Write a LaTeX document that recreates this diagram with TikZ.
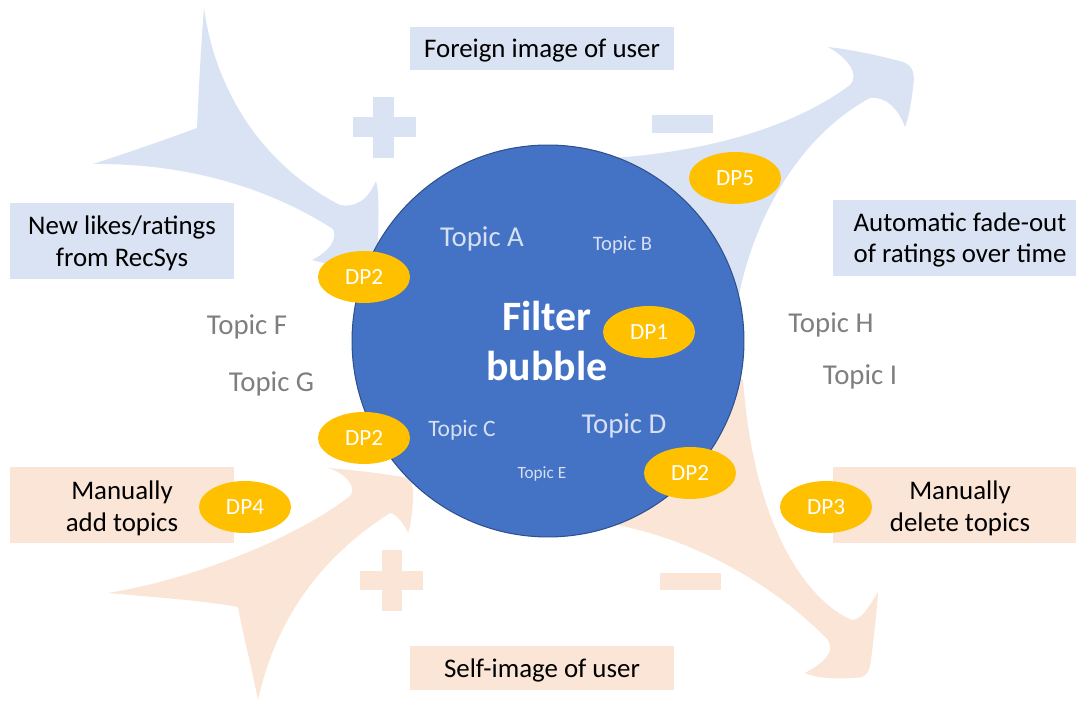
\documentclass[tikz,border=0pt]{standalone}
\usepackage{fontspec}
\setmainfont{Carlito}
\usetikzlibrary{shapes.geometric}
\definecolor{lblue}{HTML}{DAE3F3}
\definecolor{lorange}{HTML}{FBE5D6}
\definecolor{bubblefill}{HTML}{4472C4}
\definecolor{bubbleedge}{HTML}{2F528F}
\definecolor{dpgold}{HTML}{FFC000}
\definecolor{topicgrey}{HTML}{7F7F7F}
\definecolor{topiclight}{HTML}{D6E0F2}
\begin{document}
\begin{tikzpicture}[x=0.02cm,y=-0.02cm,
  boxtext/.style={font=\fontsize{15.3}{18.1}\selectfont, align=center, text=black, inner sep=0, yshift=-0.04cm},
  bluebox/.style={fill=lblue, inner sep=0, draw=none},
  orangebox/.style={fill=lorange, inner sep=0, draw=none},
  dp/.style={ellipse, fill=dpgold, minimum width=1.84cm, minimum height=1.04cm, inner sep=0,
             text=white, font=\fontsize{13.2}{15}\selectfont},
  outertopic/.style={anchor=base, text=topicgrey, inner sep=0, font=\fontsize{16.4}{19}\selectfont},
  innertopic/.style={anchor=base, text=topiclight, inner sep=0},
]
\useasboundingbox (0,0) rectangle (1076,702);

% ---- label boxes ----
\node[bluebox, minimum width=5.28cm, minimum height=0.86cm] (foreignbox) at (542,48.5) {};
\node[boxtext] (foreign) at (foreignbox.center) {Foreign image of user};
\node[bluebox, minimum width=4.48cm, minimum height=1.52cm] (likesbox) at (122,241) {};
\node[boxtext] (likes) at (likesbox.center) {New likes/ratings\\from RecSys};
\node[bluebox, minimum width=4.86cm, minimum height=1.52cm] (fadebox) at (954.5,238) {};
\node[boxtext] (fade) at (960,238) {Automatic fade-out\\of ratings over time};
\node[orangebox, minimum width=4.48cm, minimum height=1.52cm] (addbox) at (122,505) {};
\node[boxtext] (addtxt) at (122,506) {Manually\\add topics};
\node[orangebox, minimum width=4.86cm, minimum height=1.52cm] (delbox) at (954.5,505) {};
\node[boxtext] (deltxt) at (960,506) {Manually\\delete topics};
\node[orangebox, minimum width=5.28cm, minimum height=0.88cm] (selfbox) at (542,668) {};
\node[boxtext] (self) at (selfbox.center) {Self-image of user};

% ---- plus / minus signs ----
\fill[lblue] (353,117) rectangle (416,137);
\fill[lblue] (373,97) rectangle (394,158);
\fill[lblue] (652,115) rectangle (713,133);
\fill[lorange] (360,571) rectangle (423,590);
\fill[lorange] (382,550) rectangle (402,611);
\fill[lorange] (660,573) rectangle (721,590);

% ---- swept arrows ----
% incoming ratings (upper left)
\fill[lblue] (204,8)
  .. controls (215,90) and (262,165) .. (340,205)
  .. controls (355,208) and (368,200) .. (376,181)
  .. controls (380,195) and (378,225) .. (378,255)
  -- (392,272) -- (335,266) -- (312,260)
  .. controls (328,252) and (338,240) .. (333,229)
  .. controls (280,195) and (200,163) .. (93,164)
  .. controls (130,152) and (170,138) .. (197,128)
  .. controls (199,85) and (201,45) .. cycle;
% fade-out (upper right)
\fill[lblue] (600,168) -- (613,158)
  .. controls (700,152) and (790,130) .. (850,85)
  .. controls (860,75) and (848,58) .. (828,47)
  .. controls (855,50) and (885,57) .. (903,62)
  .. controls (914,66) and (915,75) .. (913,88)
  .. controls (911,105) and (908,120) .. (905,127)
  .. controls (898,108) and (885,96) .. (870,98)
  .. controls (810,130) and (760,200) .. (740,290)
  -- (735,320) -- cycle;
% manual additions (lower left)
\fill[lorange] (258,700)
  .. controls (250,660) and (242,630) .. (238,607)
  .. controls (200,600) and (150,597) .. (108,593)
  .. controls (200,578) and (300,535) .. (350,496)
  .. controls (358,488) and (345,472) .. (327,468)
  .. controls (355,470) and (385,474) .. (403,477)
  .. controls (412,479) and (414,488) .. (413,500)
  .. controls (412,515) and (410,528) .. (408,533)
  .. controls (403,522) and (396,514) .. (390,513)
  .. controls (340,545) and (280,600) .. cycle;
% manual deletions (lower right)
\fill[lorange] (600,520) -- (612,524)
  .. controls (700,540) and (780,590) .. (828,640)
  .. controls (835,652) and (825,662) .. (805,673)
  .. controls (820,680) and (850,679) .. (862,677)
  .. controls (868,675) and (870,668) .. (871,660)
  .. controls (874,635) and (877,610) .. (878,592)
  .. controls (870,605) and (862,620) .. (852,620)
  .. controls (815,605) and (755,540) .. (743,380)
  -- (730,370) -- cycle;

% ---- the bubble ----
\node[circle, fill=bubblefill, draw=bubbleedge, line width=0.6pt, minimum size=7.84cm, inner sep=0] (bubble) at (548,341) {};
\node[text=white, align=center, inner sep=0, font=\bfseries\fontsize{23.8}{29}\selectfont] (title) at (547,341) {Filter\\bubble};

% topics inside
\node[innertopic, font=\fontsize{16.4}{19}\selectfont] (ta) at (482,247) {Topic A};
\node[innertopic, font=\fontsize{11.7}{14}\selectfont] (tb) at (622.5,251) {Topic B};
\node[innertopic, font=\fontsize{13.4}{16}\selectfont] (tc) at (462,437) {Topic C};
\node[innertopic, font=\fontsize{16.4}{19}\selectfont] (td) at (624,434) {Topic D};
\node[innertopic, font=\fontsize{9.8}{12}\selectfont] (te) at (542,479) {Topic E};

% topics outside
\node[outertopic] (tf) at (247,335) {Topic F};
\node[outertopic] (tg) at (271.5,392) {Topic G};
\node[outertopic] (th) at (831,333) {Topic H};
\node[outertopic] (ti) at (860,385) {Topic I};

% ---- design points ----
\node[dp] (dp2a) at (364,277) {DP2};
\node[dp] (dp1) at (649,332) {DP1};
\node[dp] (dp5) at (735,178) {DP5};
\node[dp] (dp2b) at (364,438) {DP2};
\node[dp] (dp2c) at (690,473) {DP2};
\node[dp] (dp4) at (245,507) {DP4};
\node[dp] (dp3) at (826,507) {DP3};
\end{tikzpicture}
\end{document}
